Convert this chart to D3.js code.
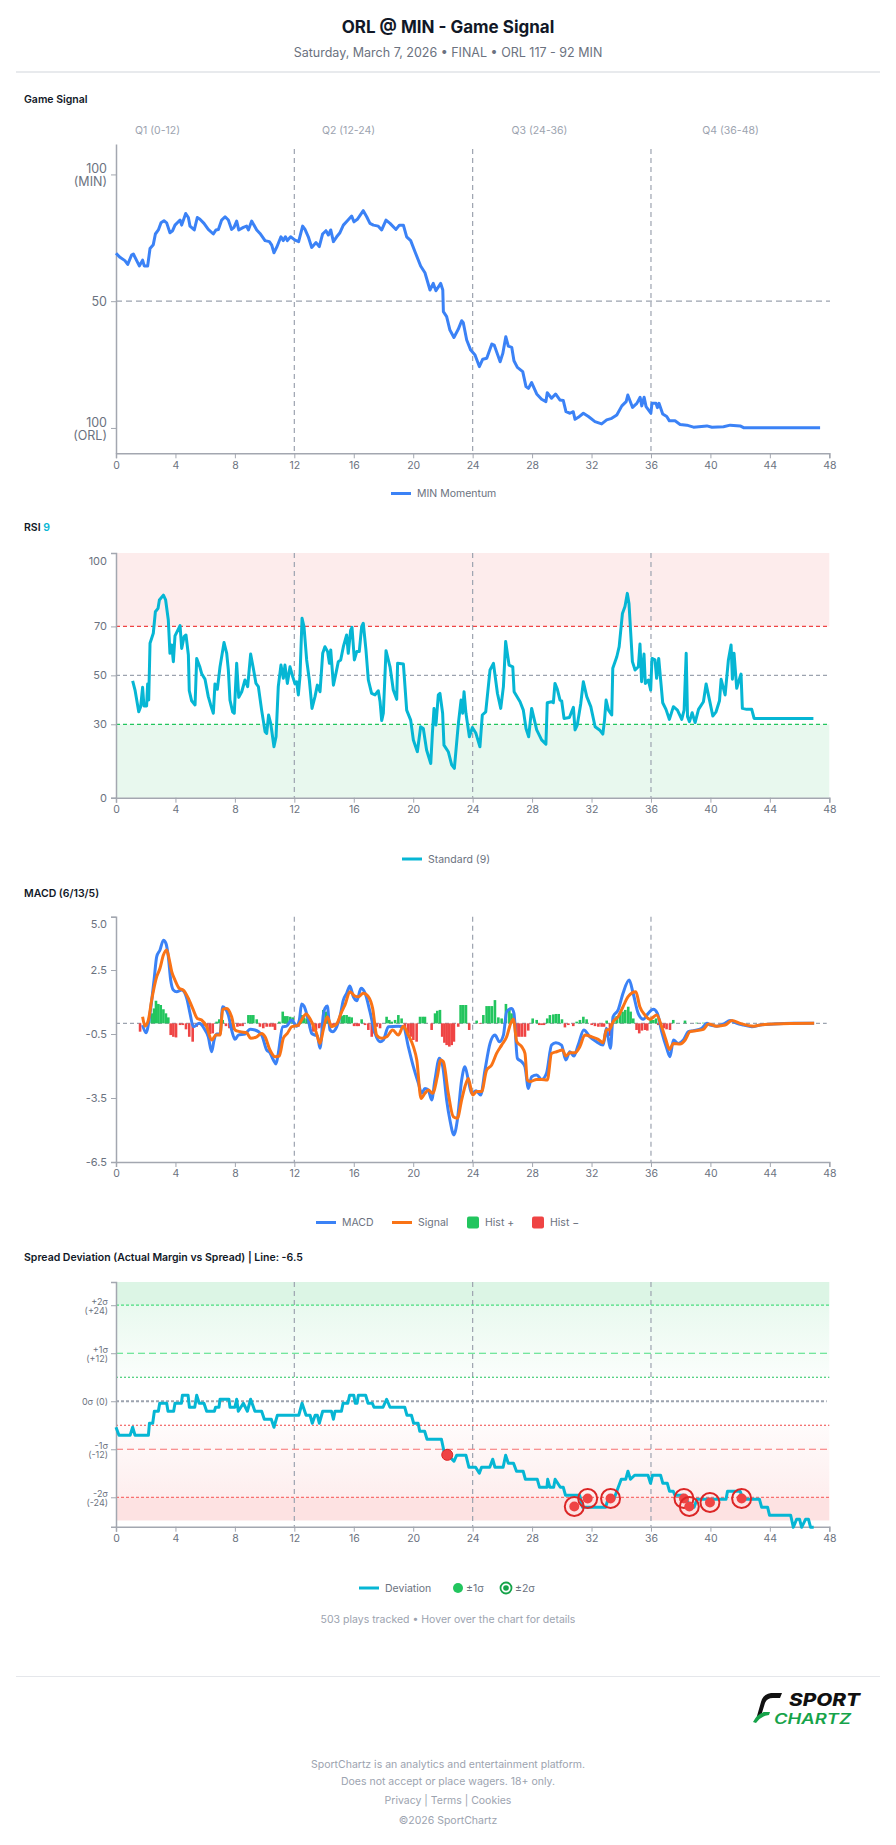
<!DOCTYPE html>
<html>
<head>
<meta charset="utf-8">
<script src="https://cdn.jsdelivr.net/npm/d3@7"></script>
<style>
  body { margin: 0; background: #fff; }
  svg { display: block; font-family: Inter, "Noto Sans", sans-serif; }
</style>
</head>
<body>
<svg id="chart"></svg>
<script>
// ---- data: [minute, value] ----
const minuteTicks = [0, 4, 8, 12, 16, 20, 24, 28, 32, 36, 40, 44, 48];
const quarterLines = [12, 24, 36];
const quarterLabels = ["Q1 (0-12)", "Q2 (12-24)", "Q3 (24-36)", "Q4 (36-48)"];

const momentum = [[0,68.9],[0.27,67.3],[0.6,66],[0.79,64.5],[1.05,68.2],[1.17,68.6],[1.57,63.9],[1.79,66.2],[1.9,63.9],[2.13,63.9],[2.29,70.8],[2.51,72.3],[2.65,76.5],[2.85,78.1],[3.03,80.9],[3.23,81.7],[3.41,80.9],[3.63,77],[3.81,77.8],[3.97,80],[4.31,82],[4.42,80],[4.69,84.6],[4.87,83],[4.98,79.6],[5.27,78.1],[5.47,83],[5.65,82.3],[5.92,80.7],[6.21,78.3],[6.55,76.5],[6.73,78.1],[6.89,78.3],[7.11,82],[7.34,83.3],[7.56,82],[7.78,78.3],[7.94,79.1],[8.12,81.6],[8.26,78.1],[8.57,79.1],[8.79,79.6],[8.91,78.1],[9.13,81.6],[9.47,78.1],[9.69,76.7],[10.03,73.9],[10.32,73.5],[10.48,72.1],[10.63,69.1],[10.81,71.2],[11.1,75.4],[11.26,73.9],[11.4,75.4],[11.53,73.9],[11.75,75.4],[12.05,74.1],[12.29,73.5],[12.56,79.6],[12.72,78.3],[12.94,75.4],[13.17,71.2],[13.46,73.1],[13.68,71.5],[13.9,76.5],[14.13,77.8],[14.29,76.1],[14.45,78.1],[14.63,73.5],[14.85,75.4],[15.07,77],[15.3,80],[15.57,81.7],[15.86,83.6],[16.01,81.3],[16.24,82.3],[16.64,85.7],[16.87,83.3],[17.09,80.7],[17.32,80],[17.65,79.6],[17.88,78.1],[18.17,82],[18.44,80.7],[18.84,78.3],[19.07,80],[19.34,80],[19.56,75.4],[19.83,73.9],[20.12,69.5],[20.5,63.9],[20.79,61.2],[21.13,54.4],[21.35,57],[21.53,54.1],[21.85,57],[21.99,54.4],[22.03,45.9],[22.25,43.9],[22.47,38.6],[22.74,35.7],[23.03,38.9],[23.26,42.3],[23.37,41.5],[23.6,34.7],[23.87,30.7],[24.16,28.8],[24.45,24.2],[24.68,27.1],[24.95,27.5],[25.29,33.1],[25.45,32.7],[25.85,26.1],[26.03,29.4],[26.23,36],[26.4,32.3],[26.63,31.8],[26.78,26.5],[27.01,23.9],[27.37,22.2],[27.59,16.3],[27.75,15.6],[27.97,17.9],[28.31,13.4],[28.64,11.3],[28.93,10.4],[29.02,13.9],[29.31,11.7],[29.58,13.4],[29.88,11],[30.1,10.8],[30.28,6.4],[30.55,5.8],[30.77,6.4],[30.89,3.4],[31.11,4.2],[31.45,5.8],[31.79,4.5],[32.23,2.5],[32.68,1.6],[33.02,3.2],[33.36,3.8],[33.7,5.1],[34.04,8.7],[34.33,10.4],[34.44,13],[34.76,8.1],[35.05,9.7],[35.27,12.1],[35.38,8.7],[35.54,12.1],[35.67,8.4],[35.99,5.8],[36.07,9.7],[36.34,9.7],[36.43,8],[36.54,9.7],[36.79,5.5],[37.06,4.5],[37.24,2.8],[37.62,2.8],[37.96,1.4],[38.41,1.1],[38.86,0.3],[39.76,0.8],[40.1,0.3],[40.88,0.5],[41.33,1.1],[42.0,0.8],[42.23,0.1],[47.38,0.1]];

const rsi = [[1.12,47.7],[1.28,44],[1.53,35.1],[1.66,37.2],[1.79,45.1],[1.88,37.5],[2.06,37.5],[2.13,46.5],[2.2,39.9],[2.29,63.1],[2.51,67.2],[2.65,76],[2.83,77.4],[2.92,80.8],[3.19,82.8],[3.34,80.8],[3.52,72.6],[3.63,59],[3.75,62.4],[3.86,55.6],[3.97,66.1],[4.31,70.3],[4.42,61],[4.58,65.8],[4.71,66.5],[4.87,58.3],[4.93,43.7],[5.09,39.6],[5.32,37.9],[5.43,56.9],[5.65,53.3],[5.76,50.8],[5.99,48.4],[6.21,41.3],[6.37,37.9],[6.55,34.5],[6.66,46.5],[6.82,44.3],[7,53.5],[7.27,63.4],[7.45,59],[7.56,52.2],[7.67,39.9],[7.85,35.1],[7.96,34.5],[8.12,54.9],[8.26,41],[8.46,43.3],[8.68,48.1],[8.86,45.4],[9.06,58.7],[9.24,52.9],[9.42,46.7],[9.58,45.4],[9.8,35.8],[10.03,27],[10.14,26.3],[10.27,33.8],[10.41,30.4],[10.63,20.8],[10.77,24.9],[10.92,45.4],[11.1,54.2],[11.26,48.8],[11.37,54.2],[11.53,46.7],[11.71,53.5],[11.89,49.5],[12.05,46.5],[12.16,47.4],[12.27,42],[12.38,49.5],[12.52,73.3],[12.65,69.9],[12.83,56.3],[13.01,48.1],[13.19,36.5],[13.39,41.3],[13.55,46],[13.73,43.3],[13.91,59],[14.06,61.7],[14.24,59.7],[14.36,54.9],[14.45,60.4],[14.63,46],[14.8,50.8],[14.96,55.6],[15.12,56.3],[15.3,61.7],[15.52,66.5],[15.63,59],[15.79,68.5],[15.88,69.6],[16.04,56.3],[16.2,59.7],[16.37,59.7],[16.53,69.9],[16.64,71.3],[16.82,60.4],[16.98,48.1],[17.2,42.6],[17.43,42],[17.65,43.7],[17.77,39.2],[17.88,31.5],[17.99,34.5],[18.17,60.1],[18.44,53.5],[18.66,44],[18.89,40.2],[18.95,54.9],[19.34,54.6],[19.56,35.8],[19.83,31.7],[20.01,23.6],[20.28,18.8],[20.5,29],[20.68,28.3],[20.9,19.5],[21.18,14],[21.29,26.3],[21.4,36.5],[21.53,29.7],[21.69,42],[21.8,42.6],[21.98,34.5],[22.07,21.5],[22.36,18.8],[22.59,13.4],[22.77,12],[23.04,30.4],[23.22,39.9],[23.33,34.5],[23.42,43.3],[23.55,34.5],[23.78,24.9],[23.98,28.7],[24.22,26.3],[24.49,20.8],[24.65,33.8],[24.88,35.1],[25.17,52.2],[25.4,54.9],[25.67,42.6],[25.89,36.5],[26.07,45.4],[26.22,63.8],[26.45,54.2],[26.7,53.5],[26.79,43.3],[27.19,39.2],[27.41,35.8],[27.59,28.3],[27.77,24.9],[27.97,36.5],[28.31,27.7],[28.64,23.6],[28.93,21.9],[29.02,38.8],[29.31,39.2],[29.43,38.8],[29.54,46.7],[29.7,44.3],[29.88,39.9],[29.99,39.6],[30.15,32.4],[30.51,32.8],[30.78,36.9],[30.89,27.7],[31.04,29.7],[31.27,38.3],[31.45,47.4],[31.68,41.3],[31.95,37.2],[32.24,29],[32.54,27.7],[32.76,26],[32.87,31.5],[32.98,39.9],[33.14,35.8],[33.36,33.8],[33.43,52.9],[33.7,57.6],[33.86,61.7],[34.08,75.3],[34.25,78.1],[34.41,83.5],[34.52,79.4],[34.75,55.6],[34.93,52.2],[35.15,53.5],[35.26,62.8],[35.37,47.4],[35.53,58.7],[35.62,46.7],[35.82,48.1],[35.98,44],[36.07,56.9],[36.27,56.3],[36.38,48.8],[36.52,56.9],[36.79,38.8],[37.01,36.1],[37.24,32],[37.51,37.2],[37.78,35.8],[38.07,32],[38.23,35.8],[38.37,59],[38.46,33.1],[38.59,31.1],[38.77,34.7],[38.97,30.7],[39.2,36.1],[39.53,39.2],[39.71,46.5],[39.94,39.9],[40.16,33.4],[40.38,35.1],[40.61,39.6],[40.72,48.4],[40.99,42],[41.21,56.3],[41.39,62.4],[41.48,48.4],[41.59,59],[41.77,44.7],[42.0,49.5],[42.06,50.5],[42.15,36.5],[42.44,36.1],[42.78,36.1],[42.94,32.4],[46.93,32.4]];

const macd = [[1.79,-0.08],[2.02,-0.44],[2.29,0.47],[2.56,2.03],[2.74,3.13],[2.96,3.44],[3.19,3.9],[3.36,3.75],[3.52,3.13],[3.68,2.03],[3.86,1.56],[4.08,1.48],[4.42,1.56],[4.76,1.17],[4.98,0.47],[5.2,-0.16],[5.61,0],[5.92,-0.23],[6.21,-0.63],[6.44,-1.33],[6.6,-0.78],[6.77,-0.5],[7,-0.5],[7.18,0.78],[7.34,0.7],[7.56,0.39],[7.78,-0.31],[8.01,-0.75],[8.23,-0.55],[8.68,-0.5],[9.02,-0.28],[9.35,-0.31],[9.8,-0.55],[10.14,-1.25],[10.36,-1.38],[10.59,-1.72],[10.77,-1.9],[10.92,-1.41],[11.22,-0.16],[11.48,-0.13],[11.82,0.16],[12.16,-0.13],[12.34,0.16],[12.49,0.91],[12.65,0.81],[12.94,0.16],[13.17,-0.47],[13.39,-0.55],[13.55,-0.59],[13.73,-1.17],[13.95,0.39],[14.06,0.7],[14.22,0.81],[14.4,-0.31],[14.58,-0.39],[14.85,-0.16],[15.07,0.31],[15.3,1.09],[15.52,1.41],[15.74,1.75],[15.97,1.25],[16.2,1.06],[16.49,1.64],[16.76,1.41],[17.09,0.55],[17.43,-0.47],[17.77,-0.86],[17.99,-0.78],[18.33,-0.16],[19,-0.13],[19.34,-0.16],[19.67,-1.09],[20.01,-2.03],[20.35,-2.81],[20.57,-3.28],[20.79,-3.05],[21.02,-3.13],[21.24,-3.59],[21.46,-2.66],[21.76,-1.64],[21.99,-2.03],[22.25,-3.59],[22.47,-4.53],[22.74,-5.23],[22.97,-4.53],[23.26,-2.66],[23.48,-2.03],[23.71,-2.66],[23.93,-3.28],[24.23,-3.16],[24.54,-3.36],[24.83,-2.19],[25.17,-0.94],[25.5,-0.55],[25.8,-0.86],[26.07,-0.55],[26.29,0.55],[26.63,0.7],[26.78,0.47],[27.01,-1.64],[27.3,-1.8],[27.52,-2.03],[27.75,-3.05],[27.97,-2.5],[28.31,-2.42],[28.64,-2.63],[28.97,-2.34],[29.31,-1.02],[29.6,-0.91],[29.98,-1.02],[30.27,-1.72],[30.54,-1.33],[30.81,-1.53],[31.1,-1.02],[31.48,-0.31],[31.89,-0.63],[32.33,-0.86],[32.78,-1.02],[33,-0.23],[33.11,-0.63],[33.27,-1.17],[33.45,0.31],[33.79,0.63],[34.12,1.41],[34.53,2.03],[34.8,1.41],[35.14,0.47],[35.48,0.19],[35.82,0.47],[36.16,0.66],[36.43,0.47],[36.72,-0.39],[37.06,-1.17],[37.28,-1.56],[37.51,-0.78],[37.84,-0.94],[38.18,-0.78],[38.52,-0.39],[38.86,-0.34],[39.42,-0.23],[39.76,0],[39.99,-0.08],[40.43,-0.13],[40.88,-0.03],[41.33,0.13],[41.78,0],[42.23,-0.08],[42.79,-0.16],[43.35,-0.08],[44.25,-0.03],[45.59,0],[46.98,0]];

const signal = [[1.79,0.31],[1.95,-0.13],[2.18,0.16],[2.4,1.09],[2.74,2.19],[2.96,2.58],[3.19,3.2],[3.41,3.44],[3.59,2.97],[3.75,2.42],[3.97,2.03],[4.26,1.64],[4.53,1.56],[4.87,1.17],[5.16,0.7],[5.47,0.23],[5.76,0.16],[6.1,-0.16],[6.44,-0.78],[6.73,-0.55],[7,-0.55],[7.18,0.66],[7.45,0.7],[7.78,0.31],[8.01,-0.31],[8.34,-0.39],[8.79,-0.44],[9.06,-0.7],[9.47,-0.63],[9.8,-0.47],[10.03,-0.63],[10.36,-1.25],[10.7,-1.56],[10.99,-1.53],[11.26,-0.7],[11.53,-0.47],[11.82,-0.16],[12.27,-0.08],[12.49,0.16],[12.79,0.44],[13.1,0.16],[13.46,-0.39],[13.73,-0.94],[13.95,-0.31],[14.22,0.31],[14.51,-0.16],[14.85,-0.03],[15.19,0.55],[15.41,0.86],[15.74,1.48],[16.08,1.28],[16.31,1.25],[16.64,1.41],[16.98,1.25],[17.27,0.7],[17.54,-0.55],[17.88,-0.7],[18.22,-0.63],[18.62,-0.31],[19,-0.55],[19.34,-0.13],[19.67,-0.55],[20.01,-1.09],[20.24,-1.72],[20.53,-3.52],[20.79,-3.28],[21.02,-3.13],[21.31,-3.28],[21.62,-2.5],[21.85,-1.72],[22.03,-1.8],[22.36,-3.28],[22.7,-4.38],[22.97,-4.45],[23.26,-3.59],[23.48,-2.97],[23.71,-2.58],[24,-3.36],[24.27,-3.2],[24.6,-3.2],[24.94,-2.19],[25.28,-1.95],[25.61,-1.41],[25.95,-1.02],[26.29,-0.63],[26.56,0],[26.74,0.19],[26.97,-0.86],[27.3,-1.09],[27.52,-1.41],[27.68,-2.66],[27.86,-2.73],[28.31,-2.63],[28.64,-2.63],[29.02,-2.66],[29.31,-1.41],[29.65,-1.33],[30.05,-1.25],[30.27,-1.53],[30.54,-1.38],[30.88,-1.38],[31.22,-1.09],[31.55,-0.55],[32,-0.63],[32.45,-0.75],[32.78,-0.91],[33,-0.31],[33.22,-0.28],[33.45,0.08],[33.79,0.31],[34.12,0.78],[34.46,1.25],[34.98,1.48],[35.25,0.78],[35.59,0.39],[35.93,0.19],[36.38,0.39],[36.72,-0.16],[37.01,-0.78],[37.24,-1.22],[37.51,-0.94],[37.96,-0.97],[38.3,-0.78],[38.63,-0.39],[39.08,-0.34],[39.53,-0.28],[39.87,-0.03],[40.43,-0.13],[40.99,-0.08],[41.44,0.13],[42,0],[42.9,-0.13],[43.35,-0.08],[44.25,-0.03],[46.98,0]];

const hist = [[1.62,-0.39],[2.4,0.47],[2.56,0.7],[2.69,1.06],[2.85,0.91],[3.01,0.86],[3.19,0.66],[3.36,0.47],[3.52,0.28],[3.68,-0.55],[3.86,-0.63],[4.04,-0.66],[4.31,-0.08],[4.49,-0.08],[4.71,-0.28],[4.93,-0.63],[5.16,-0.86],[5.43,-0.16],[5.65,-0.08],[5.92,-0.13],[6.15,-0.28],[6.33,-0.5],[6.51,-0.47],[6.77,0.08],[6.95,0.19],[7.18,0.16],[7.4,-0.13],[7.63,-0.23],[7.85,-0.31],[8.17,-0.16],[8.34,-0.13],[8.52,-0.13],[8.91,0.39],[9.06,0.39],[9.24,0.39],[9.47,0.19],[9.69,-0.16],[9.91,-0.23],[10.14,-0.16],[10.36,-0.16],[10.54,-0.16],[10.7,-0.31],[10.99,0.08],[11.22,0.55],[11.37,0.34],[11.53,0.34],[11.71,0.31],[11.89,0.28],[12.05,-0.13],[12.27,-0.16],[12.49,0.39],[12.65,0.28],[12.83,0.23],[13.06,-0.23],[13.28,-0.39],[13.46,-0.31],[13.68,-0.23],[13.84,-0.16],[13.95,0.63],[14.13,0.55],[14.29,0.28],[14.4,-0.16],[14.58,-0.16],[14.74,-0.08],[14.96,0.16],[15.19,0.34],[15.34,0.39],[15.52,0.39],[15.7,0.31],[15.86,0.28],[16.02,-0.13],[16.2,-0.13],[16.33,-0.13],[16.53,0.19],[16.76,-0.08],[16.98,-0.31],[17.21,-0.63],[17.36,-0.47],[17.54,-0.16],[17.77,-0.23],[18.21,0.31],[18.39,0.16],[18.55,0.08],[18.78,0.16],[19,0.39],[19.22,0.23],[19.45,-0.31],[19.67,-0.47],[19.83,-0.63],[20.01,-0.78],[20.23,-0.86],[20.46,0.31],[20.64,0.31],[20.79,0.31],[21.24,-0.31],[21.47,0.47],[21.62,0.59],[21.8,0.63],[21.95,-0.63],[22.1,-0.91],[22.25,-1.02],[22.43,-1.09],[22.59,-1.02],[22.74,-0.86],[23.03,-0.16],[23.19,0.86],[23.37,0.86],[23.55,0.86],[23.77,-0.31],[24.27,0.13],[24.49,-0.03],[24.72,0.39],[24.94,0.81],[25.12,0.81],[25.3,0.81],[25.5,1.09],[25.73,0.28],[25.95,0.23],[26.24,0.91],[26.47,0.66],[26.62,0.47],[26.96,-0.63],[27.14,-0.63],[27.32,-0.63],[27.52,-0.63],[27.74,-0.34],[28.04,0.23],[28.31,0.16],[28.48,-0.08],[28.64,-0.08],[28.8,-0.08],[29.02,0.23],[29.2,0.39],[29.43,0.42],[29.61,0.44],[29.79,0.44],[30.01,0.19],[30.21,-0.19],[30.44,-0.08],[30.77,-0.13],[31,0.08],[31.22,0.16],[31.45,0.31],[31.67,0.19],[32.01,-0.08],[32.23,-0.13],[32.46,-0.16],[32.68,-0.16],[32.84,-0.16],[33.02,0.13],[33.24,-0.59],[33.46,0.31],[33.69,0.34],[33.91,0.47],[34.09,0.55],[34.27,0.63],[34.47,0.78],[34.63,0.55],[34.81,0.23],[35.03,-0.31],[35.21,-0.47],[35.39,-0.34],[35.6,-0.31],[35.75,-0.34],[35.98,0.19],[36.16,0.16],[36.34,0.23],[36.49,-0.08],[36.65,-0.16],[36.87,-0.23],[37.05,-0.28],[37.28,-0.31],[37.5,0.16],[38.29,0.13],[39.07,0.03],[39.52,0.03]];

const deviation = [[0,-6.5],[0.2,-8.5],[0.95,-8.5],[1.12,-6.5],[1.28,-8.5],[2.18,-8.5],[2.25,-5.5],[2.47,-5.5],[2.58,-2.5],[2.85,-2.5],[2.94,-0.5],[3.41,-0.5],[3.5,-2.5],[3.88,-2.5],[3.97,-0.5],[4.4,-0.5],[4.47,1.5],[4.85,1.5],[4.94,-1.5],[5.3,-1.5],[5.43,1.5],[5.6,-0.5],[5.92,-0.5],[6.1,-2.5],[6.62,-2.5],[6.7,-1.5],[6.93,-1.5],[7.0,0.5],[7.6,0.5],[7.67,-1.5],[8.0,-1.5],[8.12,0.5],[8.23,-2.5],[8.57,-0.5],[8.84,-2.5],[9.06,0.5],[9.35,-2.5],[9.8,-2.5],[9.98,-4.5],[10.45,-4.5],[10.63,-6.5],[10.86,-3.5],[12.3,-3.5],[12.52,-0.5],[12.79,-3.5],[13.06,-3.5],[13.21,-5.5],[13.4,-3.5],[13.55,-3.5],[13.68,-5.5],[13.91,-2.5],[14.5,-2.5],[14.63,-4.5],[14.74,-2.5],[15.17,-2.5],[15.28,-0.5],[15.6,-0.5],[15.72,1.5],[16.0,1.5],[16.1,-0.5],[16.22,-0.5],[16.31,1.5],[16.8,1.5],[16.96,-0.5],[17.25,-0.5],[17.36,-1.5],[17.97,-1.5],[18.21,0.5],[18.44,-1.5],[19.43,-1.5],[19.58,-3.5],[19.88,-3.5],[20.03,-5.5],[20.33,-5.5],[20.44,-7.5],[20.77,-7.5],[20.93,-9.5],[21.9,-9.5],[22.07,-12.5],[22.35,-13.5],[22.74,-15],[22.92,-13.5],[23.55,-13.5],[23.75,-16.5],[24.2,-16.5],[24.45,-18],[24.6,-16.5],[25.15,-16.5],[25.35,-14.5],[25.5,-16.5],[26.05,-16.5],[26.22,-13.5],[26.4,-15.5],[26.75,-15.5],[26.95,-17.5],[27.4,-17.5],[27.55,-19.5],[28.35,-19.5],[28.5,-21.5],[29.0,-21.5],[29.05,-19.5],[29.2,-21.5],[29.45,-21.5],[29.55,-19.5],[29.9,-21.5],[30.1,-21.5],[30.25,-23.5],[31.2,-23.5],[31.4,-26.5],[32.95,-26.5],[33.1,-24.5],[33.5,-24.5],[33.7,-22.5],[34.0,-19.5],[34.3,-19.5],[34.45,-17.5],[34.62,-19.5],[34.9,-18.5],[35.8,-18.5],[35.97,-20.5],[36.1,-18.5],[36.65,-18.5],[36.8,-20.5],[37.1,-20.5],[37.25,-22.5],[37.5,-22.5],[37.62,-23.5],[38.2,-23.5],[38.4,-24.5],[38.6,-26.5],[38.9,-26.5],[39.1,-24.5],[40.2,-24.5],[41.05,-24.5],[41.15,-22.5],[42.0,-22.5],[42.2,-24.5],[43.3,-24.5],[43.45,-26.5],[43.85,-26.5],[43.98,-28.5],[45.4,-28.5],[45.58,-31.5],[45.8,-29.5],[46.0,-29.5],[46.14,-31.5],[46.4,-29.5],[46.6,-29.5],[46.74,-31.5],[46.95,-31.5]];

const sigma1Marks = [[22.29,-13.4]];
const sigma2Marks = [[30.84,-26.3],[31.74,-24.3],[33.28,-24.3],[38.22,-24.3],[38.58,-26.3],[39.97,-25.3],[42.1,-24.3]];

// ---- layout ----
const W = 896, H = 1845;
const FONT = "Inter, 'Noto Sans', sans-serif";
const svg = d3.select("#chart").attr("width", W).attr("height", H);
const x = d3.scaleLinear().domain([0, 48]).range([116, 829.3]);

function text(t, xx, yy, opts = {}) {
  return svg.append("text").attr("x", xx).attr("y", yy)
    .attr("text-anchor", opts.anchor || "start")
    .attr("dominant-baseline", "central")
    .attr("fill", opts.fill || "#6b7280")
    .style("font-size", (opts.size || 11) + "px")
    .style("font-weight", opts.weight || 400)
    .style("font-family", FONT)
    .text(t);
}

function styleAxis(g, size) {
  g.select(".domain").attr("stroke", "#a3a7b0").attr("stroke-width", 1.5);
  g.selectAll(".tick line").attr("stroke", "#a3a7b0");
  g.selectAll(".tick text").attr("fill", "#6b7280").style("font-size", size + "px").style("font-family", FONT);
}

function xAxis(yPos) {
  const g = svg.append("g").attr("transform", `translate(0,${yPos})`)
    .call(d3.axisBottom(x).tickValues(minuteTicks).tickSize(5).tickPadding(3).tickFormat(d3.format("d")));
  styleAxis(g, 10.5);
}

function quarterRules(y0, y1) {
  svg.append("g").selectAll("line").data(quarterLines).join("line")
    .attr("x1", d => x(d)).attr("x2", d => x(d))
    .attr("y1", y0).attr("y2", y1)
    .attr("stroke", "#9ca3af").attr("stroke-width", 1.2).attr("stroke-dasharray", "5,4");
}

function hRule(yy, color, dash, width, x2) {
  svg.append("line").attr("x1", 116).attr("x2", x2 || 829.3).attr("y1", yy).attr("y2", yy)
    .attr("stroke", color).attr("stroke-width", width || 1.2).attr("stroke-dasharray", dash);
}

function legendLine(x1, yy, color, label) {
  svg.append("line").attr("x1", x1).attr("x2", x1 + 20).attr("y1", yy).attr("y2", yy)
    .attr("stroke", color).attr("stroke-width", 3);
  text(label, x1 + 26, yy, { size: 10.5 });
}

// ---- header ----
text("ORL @ MIN - Game Signal", 448, 27, { anchor: "middle", size: 17, weight: 700, fill: "#111827" });
text("Saturday, March 7, 2026 \u2022 FINAL \u2022 ORL 117 - 92 MIN", 448, 52, { anchor: "middle", size: 12.5 });
svg.append("line").attr("x1", 16).attr("x2", 880).attr("y1", 72).attr("y2", 72).attr("stroke", "#d1d5db");

// ---- Game Signal ----
text("Game Signal", 24, 99, { size: 10.5, weight: 600, fill: "#111827" });
[157.5, 348.5, 539.5, 730.5].forEach((cx, i) => text(quarterLabels[i], cx, 130, { anchor: "middle", size: 10.5, fill: "#9ca3af" }));

const yG = d3.scaleLinear().domain([-10, 112]).range([453.3, 144]);
quarterRules(149, 453);
hRule(yG(50), "#9ca3af", "6,4", 1.2, 830);
const gYAxis = svg.append("g").attr("transform", "translate(116,0)")
  .call(d3.axisLeft(yG).tickValues([0, 50, 100]).tickSize(5).tickSizeOuter(0).tickPadding(4).tickFormat(() => ""));
styleAxis(gYAxis, 12.5);
const gLabels = { 100: ["100", "(MIN)"], 50: ["50"], 0: ["100", "(ORL)"] };
gYAxis.selectAll(".tick text").each(function (d) {
  const t = d3.select(this).attr("dy", null);
  const lines = gLabels[d];
  lines.forEach((s, i) => {
    t.append("tspan").attr("x", -9).attr("y", lines.length === 1 ? 0 : (i === 0 ? -6 : 7))
      .attr("dominant-baseline", "central").text(s);
  });
});
xAxis(453.3);
svg.append("path").datum(momentum)
  .attr("fill", "none").attr("stroke", "#3b82f6").attr("stroke-width", 3).attr("stroke-linejoin", "round")
  .attr("d", d3.line().x(d => x(d[0])).y(d => yG(d[1])));
legendLine(391, 493.5, "#3b82f6", "MIN Momentum");

// ---- RSI ----
const rsiTitle = text("RSI ", 24, 527, { size: 10.5, weight: 600, fill: "#111827" });
rsiTitle.append("tspan").attr("fill", "#06b6d4").text("9");

const yR = d3.scaleLinear().domain([0, 100]).range([797.7, 553]);
svg.append("rect").attr("x", 116).attr("width", 713.3).attr("y", yR(100)).attr("height", yR(70) - yR(100)).attr("fill", "#fdecec");
svg.append("rect").attr("x", 116).attr("width", 713.3).attr("y", yR(30)).attr("height", yR(0) - yR(30)).attr("fill", "#e8f8ee");
quarterRules(553, 797.7);
hRule(yR(70), "#ef4444", "4,3");
hRule(yR(50), "#9ca3af", "4,3");
hRule(yR(30), "#22c55e", "4,3");
const rYAxis = svg.append("g").attr("transform", "translate(116,0)")
  .call(d3.axisLeft(yR).tickValues([0, 30, 50, 70, 100]).tickSize(5).tickPadding(4));
styleAxis(rYAxis, 11);
rYAxis.selectAll(".tick text").filter(d => d === 100).attr("dy", "1.0em");
xAxis(797.7);
svg.append("path").datum(rsi)
  .attr("fill", "none").attr("stroke", "#06b6d4").attr("stroke-width", 3).attr("stroke-linejoin", "round")
  .attr("d", d3.line().x(d => x(d[0])).y(d => yR(d[1])));
legendLine(402, 859, "#06b6d4", "Standard (9)");

// ---- MACD ----
text("MACD (6/13/5)", 24, 893, { size: 10.5, weight: 600, fill: "#111827" });
const yM = d3.scaleLinear().domain([-6.5, 5.0]).range([1162, 916.7]);
quarterRules(916.7, 1162);
hRule(yM(0), "#9ca3af", "4,3", 1.2, 826.7);
svg.append("g").selectAll("rect").data(hist).join("rect")
  .attr("x", d => x(d[0]) - 1.3).attr("width", 2.6)
  .attr("y", d => d[1] >= 0 ? yM(d[1]) : yM(0))
  .attr("height", d => Math.abs(yM(d[1]) - yM(0)))
  .attr("fill", d => d[1] >= 0 ? "#22c55e" : "#ef4444");
const mYAxis = svg.append("g").attr("transform", "translate(116,0)")
  .call(d3.axisLeft(yM).tickValues([-6.5, -3.5, -0.5, 2.5, 5.0]).tickSize(5).tickPadding(4).tickFormat(d3.format(".1f")));
styleAxis(mYAxis, 11);
mYAxis.selectAll(".tick text").filter(d => d === 5).attr("dy", "1.0em");
mYAxis.selectAll(".tick text").text(d => d < 0 ? "-" + Math.abs(d).toFixed(1) : d.toFixed(1));
xAxis(1162);
const mLine = d3.line().x(d => x(d[0])).y(d => yM(d[1])).curve(d3.curveMonotoneX);
svg.append("path").datum(macd).attr("fill", "none").attr("stroke", "#3b82f6").attr("stroke-width", 3).attr("d", mLine);
svg.append("path").datum(signal).attr("fill", "none").attr("stroke", "#f97316").attr("stroke-width", 3).attr("d", mLine);
legendLine(316, 1222.5, "#3b82f6", "MACD");
legendLine(392, 1222.5, "#f97316", "Signal");
svg.append("rect").attr("x", 467).attr("y", 1216.5).attr("width", 12).attr("height", 12).attr("rx", 2).attr("fill", "#22c55e");
text("Hist +", 485, 1222.5, { size: 10.5 });
svg.append("rect").attr("x", 532).attr("y", 1216.5).attr("width", 12).attr("height", 12).attr("rx", 2).attr("fill", "#ef4444");
text("Hist \u2212", 550, 1222.5, { size: 10.5 });

// ---- Spread Deviation ----
text("Spread Deviation (Actual Margin vs Spread) | Line: -6.5", 24, 1257.5, { size: 10.5, weight: 600, fill: "#111827" });
const yS = d3.scaleLinear().domain([-31.35, 29.8]).range([1526.7, 1282]);
const defs = svg.append("defs");
const gg = defs.append("linearGradient").attr("id", "gFade").attr("x1", 0).attr("x2", 0).attr("y1", 0).attr("y2", 1);
gg.append("stop").attr("offset", "0%").attr("stop-color", "#22c55e").attr("stop-opacity", 0.1);
gg.append("stop").attr("offset", "100%").attr("stop-color", "#22c55e").attr("stop-opacity", 0.02);
const rg = defs.append("linearGradient").attr("id", "rFade").attr("x1", 0).attr("x2", 0).attr("y1", 0).attr("y2", 1);
rg.append("stop").attr("offset", "0%").attr("stop-color", "#ef4444").attr("stop-opacity", 0.02);
rg.append("stop").attr("offset", "100%").attr("stop-color", "#ef4444").attr("stop-opacity", 0.09);
const band = (a, b, fill) => svg.append("rect").attr("x", 116).attr("width", 713.3)
  .attr("y", yS(b)).attr("height", yS(a) - yS(b)).attr("fill", fill);
band(24, 29.8, "#dcf5e5");
band(6, 24, "url(#gFade)");
band(-24, -6, "url(#rFade)");
band(-29.8, -24, "#fde2e2");
quarterRules(1282, 1526.7);
hRule(yS(24), "#4ade80", "3,2");
hRule(yS(12), "#4ade80", "7,4");
hRule(yS(6), "#22c55e", "2,2");
hRule(yS(0), "#9ca3af", "3,2", 2, 826.7);
hRule(yS(-6), "#ef4444", "2,2");
hRule(yS(-12), "#f87171", "7,4");
hRule(yS(-24), "#f87171", "3,2");
const sYAxis = svg.append("g").attr("transform", "translate(116,0)")
  .call(d3.axisLeft(yS).tickValues([-24, -12, 0, 12, 24]).tickSize(5).tickPadding(4).tickFormat(() => ""));
styleAxis(sYAxis, 9);
const sLabels = { 24: ["+2\u03c3", "(+24)"], 12: ["+1\u03c3", "(+12)"], 0: ["0\u03c3 (0)"], "-12": ["-1\u03c3", "(-12)"], "-24": ["-2\u03c3", "(-24)"] };
sYAxis.selectAll(".tick text").each(function (d) {
  const t = d3.select(this).attr("dy", null);
  const lines = sLabels[d];
  lines.forEach((s, i) => {
    t.append("tspan").attr("x", -8).attr("y", lines.length === 1 ? 0 : (i === 0 ? -4 : 4.5))
      .attr("dominant-baseline", "central").text(s);
  });
});
xAxis(1526.7);
svg.append("path").datum(deviation)
  .attr("fill", "none").attr("stroke", "#06b6d4").attr("stroke-width", 3).attr("stroke-linejoin", "round")
  .attr("d", d3.line().x(d => x(d[0])).y(d => yS(d[1])));
svg.append("g").selectAll("circle").data(sigma1Marks).join("circle")
  .attr("cx", d => x(d[0])).attr("cy", d => yS(d[1])).attr("r", 5.5)
  .attr("fill", "#ef4444").attr("stroke", "#dc2626").attr("stroke-width", 1);
const ring = svg.append("g").selectAll("g").data(sigma2Marks).join("g");
ring.append("circle").attr("cx", d => x(d[0])).attr("cy", d => yS(d[1])).attr("r", 9.5)
  .attr("fill", "none").attr("stroke", "#dc2626").attr("stroke-width", 2);
ring.append("circle").attr("cx", d => x(d[0])).attr("cy", d => yS(d[1])).attr("r", 5)
  .attr("fill", "#ef4444");

legendLine(359, 1588, "#06b6d4", "Deviation");
svg.append("circle").attr("cx", 458).attr("cy", 1588).attr("r", 5).attr("fill", "#22c55e");
text("\u00b11\u03c3", 466, 1588, { size: 10.5 });
svg.append("circle").attr("cx", 506).attr("cy", 1588).attr("r", 5.5).attr("fill", "none").attr("stroke", "#16a34a").attr("stroke-width", 1.8);
svg.append("circle").attr("cx", 506).attr("cy", 1588).attr("r", 2.8).attr("fill", "#16a34a");
text("\u00b12\u03c3", 515, 1588, { size: 10.5 });

text("503 plays tracked \u2022 Hover over the chart for details", 448, 1619, { anchor: "middle", size: 10.5, fill: "#9ca3af" });

// ---- footer ----
svg.append("line").attr("x1", 16).attr("x2", 880).attr("y1", 1676.5).attr("y2", 1676.5).attr("stroke", "#e5e7eb");
svg.append("path").attr("d", "M782,1693 L771,1693 Q763,1694 761,1702 L757,1716 L761,1716 L765,1703 Q767,1698 773,1698 L780,1698 Z").attr("fill", "#111");
svg.append("path").attr("d", "M753,1722 Q757,1714 764,1712 L770,1712 L769,1715 Q761,1716 756,1723 Z").attr("fill", "#16a34a");
// logo wordmark, two stacked lines
svg.append("text").attr("x", 789).attr("y", 1706).attr("textLength", 71).attr("lengthAdjust", "spacingAndGlyphs")
  .attr("dominant-baseline", "alphabetic")
  .style("font-family", FONT).style("font-style", "italic").style("font-size", "17px").style("font-weight", 800)
  .attr("fill", "#111").text("SPORT");
svg.append("text").attr("x", 774).attr("y", 1724).attr("textLength", 77).attr("lengthAdjust", "spacingAndGlyphs")
  .attr("dominant-baseline", "alphabetic")
  .style("font-family", FONT).style("font-style", "italic").style("font-size", "14px").style("font-weight", 600)
  .attr("fill", "#16a34a").text("CHARTZ");

text("SportChartz is an analytics and entertainment platform.", 448, 1764, { anchor: "middle", size: 10.5, fill: "#9ca3af" });
text("Does not accept or place wagers. 18+ only.", 448, 1781, { anchor: "middle", size: 10.5, fill: "#9ca3af" });
text("Privacy  |  Terms  |  Cookies", 448, 1800, { anchor: "middle", size: 10.5, fill: "#9ca3af" });
text("\u00a92026 SportChartz", 448, 1820, { anchor: "middle", size: 10.5, fill: "#9ca3af" });
</script>
</body>
</html>
